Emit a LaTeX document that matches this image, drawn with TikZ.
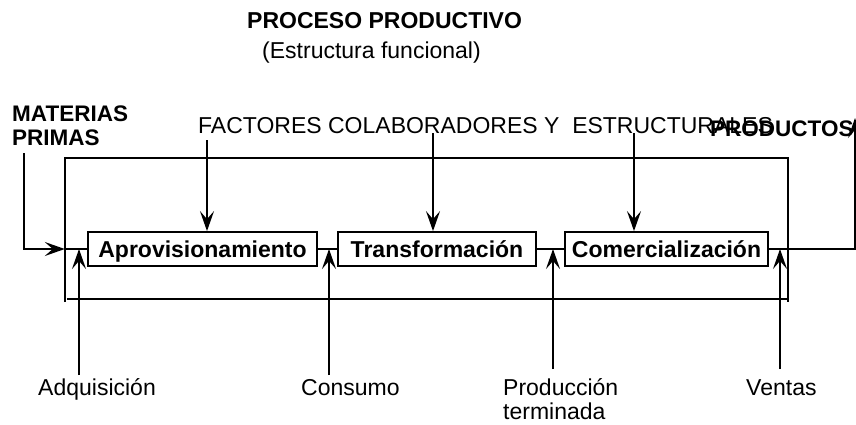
\documentclass[tikz,border=0pt]{standalone}
\usepackage{fontspec}
\setmainfont{Liberation Sans}
\usetikzlibrary{arrows.meta}
\begin{document}
\begin{tikzpicture}[x=1pt,y=-1pt,
  every node/.style={font=\fontsize{23}{25}\selectfont, inner sep=0pt},
  lbl/.style={anchor=base west},
  bl/.style={anchor=base west, font=\fontsize{22.5}{25}\selectfont\bfseries},
  stage/.style={draw, line width=1.8pt, minimum height=34pt, text height=16.5pt, text depth=0pt,
    font=\fontsize{23}{25}\selectfont\bfseries},
  ln/.style={line width=1.8pt},
  arr/.style={ln, -{Stealth[length=20pt,width=14pt,inset=8pt]}}
]
\useasboundingbox (0,0) rectangle (856,424);

% frame (open bracket-like enclosure)
\node[minimum width=723pt, minimum height=141pt] (frame) at (426.5,228.5) {};
\draw[ln] ([yshift=-3pt]frame.south west) -- (frame.north west) -- (frame.north east) -- ([yshift=-3pt]frame.south east);
\draw[ln] ([xshift=2pt]frame.south west) -- (frame.south east);

% stages
\node[stage, minimum width=229pt] (aprov) at (202.5,249) {Aprovisionamiento};
\node[stage, minimum width=198pt] (transf) at (437,249) {Transformación};
\node[stage, minimum width=203pt] (comer) at (666.5,249) {Comercialización};

% texts
\node[bl, font=\fontsize{23}{25}\selectfont\bfseries] (title) at (247,28.5) {PROCESO PRODUCTIVO};
\node[lbl] (sub) at (262,58) {(Estructura funcional)};
\node[bl] (mat1) at (12,121) {MATERIAS};
\node[bl] (mat2) at (12,145) {PRIMAS};
\node[lbl] (fact) at (198,133) {FACTORES COLABORADORES Y\ \ ESTRUCTURALES};
\node[bl] (prod) at (710,136.5) {PRODUCTOS};
\node[lbl] (adq) at (38,395) {Adquisición};
\node[lbl] (cons) at (301,395) {Consumo};
\node[lbl] (pro1) at (503,395) {Producción};
\node[lbl] (pro2) at (503,419.5) {terminada};
\node[lbl] (vent) at (746,395) {Ventas};

% input
\coordinate (mtop) at (24,153);
\draw[arr] (mtop) |- (frame.west |- aprov.west);
\draw[ln] (frame.west |- aprov.west) -- (aprov.west);

% factor arrows
\coordinate (f1) at (207,140);
\coordinate (f2) at (433,133);
\coordinate (f3) at (634,133);
\draw[arr] (f1) -- (f1 |- aprov.north);
\draw[arr] (f2) -- (f2 |- transf.north);
\draw[arr] (f3) -- (f3 |- comer.north);

% links between stages
\draw[ln] (aprov.east) -- (transf.west);
\draw[ln] (transf.east) -- (comer.west);

% output
\coordinate (pout) at (855,118);
\draw[arr] (comer.east) -| (pout);

% bottom arrows
\coordinate (a1) at (79,375);
\coordinate (a2) at (329,375);
\coordinate (a3) at (553,369);
\coordinate (a4) at (780,369);
\draw[arr] (a1) -- (a1 |- aprov.west);
\draw[arr] (a2) -- (a2 |- aprov.west);
\draw[arr] (a3) -- (a3 |- aprov.west);
\draw[arr] (a4) -- (a4 |- aprov.west);
\end{tikzpicture}
\end{document}
